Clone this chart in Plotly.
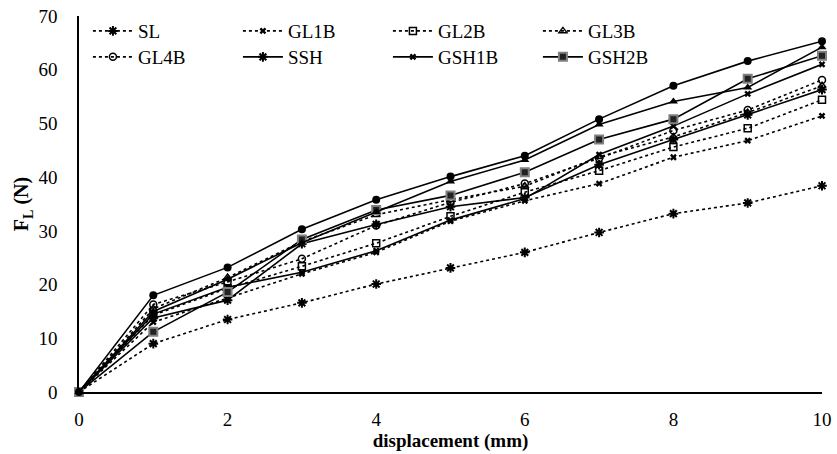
import plotly.graph_objects as go

x = [0, 1, 2, 3, 4, 5, 6, 7, 8, 9, 10]
SL    = [0, 9.0, 13.5, 16.6, 20.1, 23.1, 26.0, 29.7, 33.2, 35.2, 38.4]
GL1B  = [0, 13.0, 17.5, 22.0, 26.0, 31.8, 35.6, 38.8, 43.7, 46.8, 51.4]
GL2B  = [0, 14.3, 19.3, 23.4, 27.7, 32.7, 37.2, 41.2, 45.6, 49.1, 54.4]
GL3B  = [0, 15.5, 21.3, 28.0, 33.0, 35.8, 38.3, 43.8, 47.5, 52.0, 57.0]
GL4B  = [0, 16.3, 20.5, 24.8, 31.0, 35.3, 38.8, 43.5, 48.7, 52.5, 58.1]
SSH   = [0, 13.8, 17.1, 27.6, 31.2, 34.5, 36.2, 42.3, 47.0, 51.6, 56.3]
GSH1B = [0, 14.5, 19.5, 22.3, 26.3, 32.0, 36.0, 44.2, 49.5, 55.5, 61.0]
GSH2B = [0, 11.2, 18.6, 28.4, 33.9, 36.6, 40.9, 47.0, 50.8, 58.3, 62.6]
GSH3B = [0, 15.0, 21.0, 27.8, 33.5, 39.2, 43.2, 49.8, 54.1, 56.7, 64.2]
GSH4B = [0, 18.0, 23.2, 30.3, 35.8, 40.1, 44.0, 50.8, 57.0, 61.6, 65.3]

series = [
    ("SL", SL, "dot", dict(symbol="asterisk-open", size=8, line=dict(width=2, color="black")), "legend", True),
    ("GL1B", GL1B, "dot", dict(symbol="x", size=6, color="black", line=dict(width=0)), "legend", True),
    ("GL2B", GL2B, "dot", dict(symbol="square-open", size=7, color="black", line=dict(width=1.5, color="black")), "legend", True),
    ("GL3B", GL3B, "dot", dict(symbol="triangle-up-open", size=7, color="black", line=dict(width=1.5, color="black")), "legend", True),
    ("GL4B", GL4B, "dot", dict(symbol="circle-open", size=7, color="black", line=dict(width=1.5, color="black")), "legend2", True),
    ("SSH", SSH, "solid", dict(symbol="asterisk-open", size=8, line=dict(width=2, color="black")), "legend2", True),
    ("GSH1B", GSH1B, "solid", dict(symbol="x", size=6, color="black", line=dict(width=0)), "legend2", True),
    ("GSH2B", GSH2B, "solid", dict(symbol="square", size=8, color="#222222", line=dict(width=2, color="#808080")), "legend2", True),
    ("GSH3B", GSH3B, "solid", dict(symbol="triangle-up", size=8, color="black"), "legend2", False),
    ("GSH4B", GSH4B, "solid", dict(symbol="circle", size=8, color="black"), "legend2", False),
]

fig = go.Figure()
for name, ys, dash, mk, lg, show in series:
    fig.add_trace(go.Scatter(
        x=x, y=ys, name=name, mode="lines+markers",
        line=dict(color="black", width=1.6, dash=dash),
        marker=mk, cliponaxis=False, legend=lg, showlegend=show,
    ))

font = "Liberation Serif, Times New Roman, serif"
legend_common = dict(orientation="h", bgcolor="rgba(0,0,0,0)", xanchor="left", yanchor="middle",
                     entrywidth=95, entrywidthmode="pixels", font=dict(family=font, size=19, color="black"),
                     itemwidth=40, tracegroupgap=0)
fig.update_layout(
    width=837, height=454,
    margin=dict(l=79, r=15, t=16, b=62, autoexpand=False),
    paper_bgcolor="white", plot_bgcolor="white",
    font=dict(family=font, size=19, color="black"),
    legend=dict(x=0.012, y=0.96, **legend_common),
    legend2=dict(x=0.012, y=0.891, **legend_common),
    xaxis=dict(range=[0, 10], dtick=2, showgrid=False, zeroline=False, showline=True, automargin=False,
               linecolor="black", linewidth=1.5, ticks="", ticklabelstandoff=9,
               tickfont=dict(family=font, size=19),
               title=dict(text="<b>displacement (mm)</b>", font=dict(family=font, size=19), standoff=0)),
    yaxis=dict(range=[0, 70], dtick=10, showgrid=False, zeroline=False, showline=True, automargin=False,
               linecolor="black", linewidth=1.5, ticks="", ticklabelstandoff=16,
               tickfont=dict(family=font, size=19),
               title=dict(text="<b>F<sub>L</sub> (N)</b>", font=dict(family=font, size=20), standoff=4)),
)
fig.write_html("out.html")
